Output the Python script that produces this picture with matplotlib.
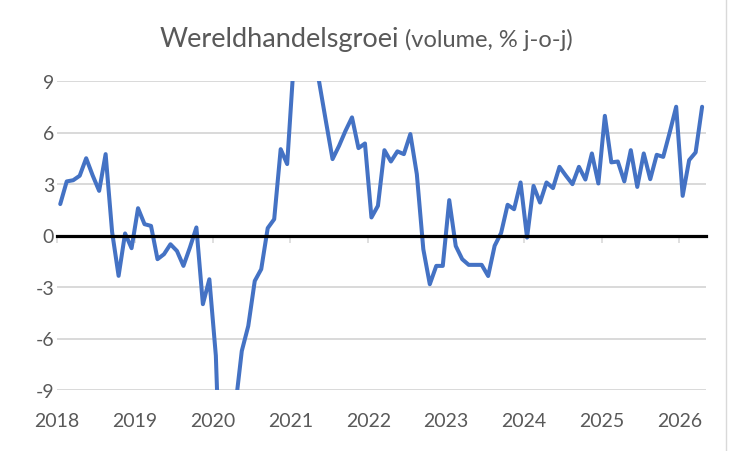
import matplotlib
matplotlib.use("Agg")
import matplotlib.pyplot as plt
from matplotlib.lines import Line2D
import numpy as np

plt.rcParams['font.family'] = ['Lato', 'DejaVu Sans']

# maandelijkse groei wereldhandel, jan 2018 t/m apr 2026 (% j-o-j)
groei = [1.83, 3.15, 3.22, 3.48, 4.5, 3.5, 2.6, 4.74, 0.2, -2.35, 0.12, -0.74,
         1.59, 0.66, 0.56, -1.38, -1.09, -0.51, -0.9, -1.77, -0.7, 0.47, -4.0, -2.55,
         -7.0, -18.0, -17.0, -10.0, -6.73, -5.27, -2.65, -1.96, 0.43, 0.95, 5.03, 4.16,
         10.0, 18.0, 17.0, 11.0, 8.8, 6.6, 4.45, 5.22, 6.1, 6.88, 5.09, 5.36,
         1.05, 1.73, 4.97, 4.31, 4.9, 4.74, 5.91, 3.57, -0.8, -2.84, -1.77, -1.77,
         2.06, -0.61, -1.38, -1.71, -1.71, -1.71, -2.36, -0.6, 0.15, 1.79, 1.53, 3.09,
         -0.12, 2.89, 1.92, 3.09, 2.76, 4.0, 3.48, 2.99, 4.0, 3.26, 4.78, 3.03,
         6.97, 4.26, 4.31, 3.15, 4.97, 2.83, 4.78, 3.28, 4.7, 4.58, 6.0, 7.5,
         2.31, 4.39, 4.84, 7.5]
jaren = [str(j) for j in range(2018, 2027)]
y_ticks = [-9, -6, -3, 0, 3, 6, 9]

grijs = '#595959'
lijn_grijs = '#D9D9D9'

fig = plt.figure(figsize=(7.3, 4.52), dpi=100)
ax = fig.add_axes([57 / 730, 1 - 391 / 452, (706 - 57) / 730, (391 - 82) / 452])

maanden = np.arange(len(groei))
ax.plot(maanden, groei, color='#4472C4', linewidth=2.9, solid_joinstyle='round',
        solid_capstyle='round', zorder=2)

ax.set_ylim(-9, 9)
ax.set_xlim(-0.5, 99.6)
ax.set_yticks(y_ticks)
ax.set_yticklabels([str(v) for v in y_ticks])
ax.grid(axis='y', color=lijn_grijs, linewidth=1.4)
ax.set_axisbelow(True)
ax.tick_params(axis='y', length=0, pad=2, labelsize=14, labelcolor=grijs)

for s in ['left', 'right', 'top']:
    ax.spines[s].set_visible(False)
# horizontale as door nul
ax.spines['bottom'].set_position(('data', 0))
ax.spines['bottom'].set_color('black')
ax.spines['bottom'].set_linewidth(2.3)
ax.spines['bottom'].set_zorder(3)
jaar_pos = [12 * k - 0.5 for k in range(len(jaren))]
ax.set_xticks(jaar_pos)
ax.set_xticklabels([])
ax.tick_params(axis='x', length=5, width=1.2, color=lijn_grijs, direction='out')

sec = ax.secondary_xaxis(0)
sec.set_xticks(jaar_pos)
sec.set_xticklabels(jaren)
sec.tick_params(length=0, pad=16, labelsize=14, labelcolor=grijs)
sec.spines['bottom'].set_visible(False)

# titel in twee delen, samen gecentreerd
basis_y = 452 - 46.7
t1 = fig.text(0, basis_y / 452, 'Wereldhandelsgroei', fontsize=19.5, color=grijs,
              ha='left', va='baseline')
t2 = fig.text(0, basis_y / 452, '(volume, % j-o-j)', fontsize=17, color=grijs,
              ha='left', va='baseline')
r = fig.canvas.get_renderer()
w1 = t1.get_window_extent(r).width
w2 = t2.get_window_extent(r).width
start = 366.5 - (w1 + 6 + w2) / 2
t1.set_x(start / 730)
t2.set_x((start + w1 + 6) / 730)

fig.add_artist(Line2D([725.5 / 730, 725.5 / 730], [0, 1], color=lijn_grijs, linewidth=1))

fig.savefig('out.png', dpi=100)
